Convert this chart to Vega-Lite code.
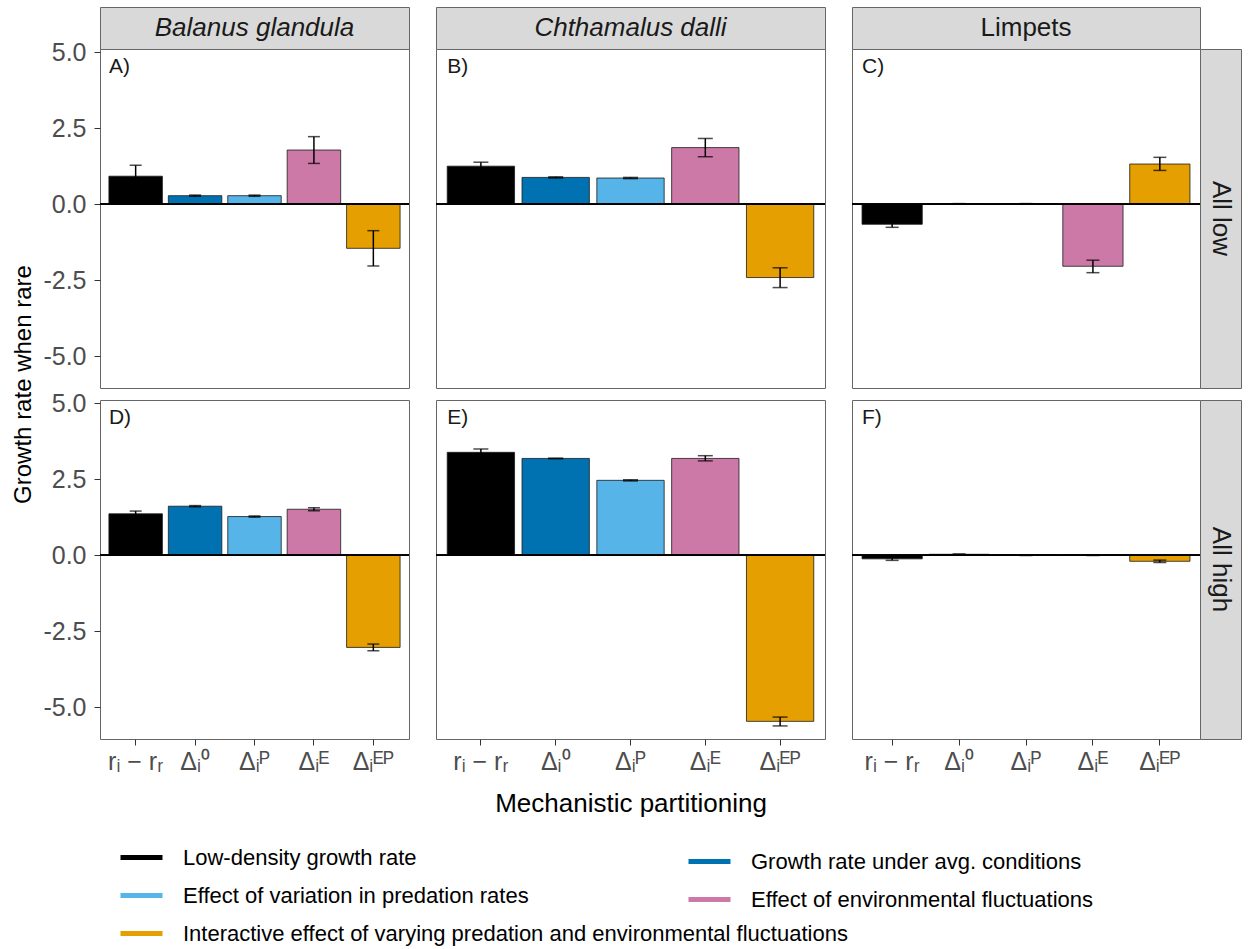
{
  "$schema": "https://vega.github.io/schema/vega-lite/v6.json",
  "padding": {"left": 10, "top": 6, "right": 7, "bottom": 5},
  "background": "white",
  "config": {
    "font": "Liberation Sans",
    "view": {"stroke": "#666666", "strokeWidth": 1},
    "axis": {"grid": false, "domain": false, "tickColor": "#333333", "tickSize": 6, "tickWidth": 1, "labelColor": "#4D4D4D", "labelFontSize": 25, "labelFont": "Liberation Sans", "titleFont": "Liberation Sans", "titleFontSize": 26, "titleColor": "#000000", "titleFontWeight": "normal"},
    "legend": {"direction": "vertical", "title": null, "symbolType": "stroke", "symbolSize": 1764, "symbolStrokeWidth": 5, "symbolOpacity": 1, "labelFontSize": 22, "labelFont": "Liberation Sans", "labelColor": "#000000", "labelOffset": 18, "rowPadding": 3, "labelLimit": 1000, "padding": 0}
  },
  "datasets": {
    "bars": [
      {"species": "Balanus glandula", "treatment": "All low", "term": "rᵢ − rᵣ", "component": "Low-density growth rate", "value": 0.92, "lo": 0.56, "hi": 1.28},
      {"species": "Balanus glandula", "treatment": "All low", "term": "Δᵢ⁰", "component": "Growth rate under avg. conditions", "value": 0.28, "lo": 0.26, "hi": 0.30},
      {"species": "Balanus glandula", "treatment": "All low", "term": "Δᵢᴾ", "component": "Effect of variation in predation rates", "value": 0.28, "lo": 0.26, "hi": 0.30},
      {"species": "Balanus glandula", "treatment": "All low", "term": "Δᵢᴱ", "component": "Effect of environmental fluctuations", "value": 1.78, "lo": 1.34, "hi": 2.22},
      {"species": "Balanus glandula", "treatment": "All low", "term": "Δᵢᴱᴾ", "component": "Interactive effect of varying predation and environmental fluctuations", "value": -1.45, "lo": -2.03, "hi": -0.87},
      {"species": "Chthamalus dalli", "treatment": "All low", "term": "rᵢ − rᵣ", "component": "Low-density growth rate", "value": 1.25, "lo": 1.12, "hi": 1.38},
      {"species": "Chthamalus dalli", "treatment": "All low", "term": "Δᵢ⁰", "component": "Growth rate under avg. conditions", "value": 0.88, "lo": 0.86, "hi": 0.90},
      {"species": "Chthamalus dalli", "treatment": "All low", "term": "Δᵢᴾ", "component": "Effect of variation in predation rates", "value": 0.86, "lo": 0.84, "hi": 0.88},
      {"species": "Chthamalus dalli", "treatment": "All low", "term": "Δᵢᴱ", "component": "Effect of environmental fluctuations", "value": 1.86, "lo": 1.56, "hi": 2.16},
      {"species": "Chthamalus dalli", "treatment": "All low", "term": "Δᵢᴱᴾ", "component": "Interactive effect of varying predation and environmental fluctuations", "value": -2.41, "lo": -2.74, "hi": -2.09},
      {"species": "Limpets", "treatment": "All low", "term": "rᵢ − rᵣ", "component": "Low-density growth rate", "value": -0.66, "lo": -0.76, "hi": -0.56},
      {"species": "Limpets", "treatment": "All low", "term": "Δᵢ⁰", "component": "Growth rate under avg. conditions", "value": 0.01, "lo": 0.0, "hi": 0.02},
      {"species": "Limpets", "treatment": "All low", "term": "Δᵢᴾ", "component": "Effect of variation in predation rates", "value": 0.01, "lo": 0.0, "hi": 0.02},
      {"species": "Limpets", "treatment": "All low", "term": "Δᵢᴱ", "component": "Effect of environmental fluctuations", "value": -2.04, "lo": -2.25, "hi": -1.84},
      {"species": "Limpets", "treatment": "All low", "term": "Δᵢᴱᴾ", "component": "Interactive effect of varying predation and environmental fluctuations", "value": 1.32, "lo": 1.11, "hi": 1.54},
      {"species": "Balanus glandula", "treatment": "All high", "term": "rᵢ − rᵣ", "component": "Low-density growth rate", "value": 1.36, "lo": 1.27, "hi": 1.45},
      {"species": "Balanus glandula", "treatment": "All high", "term": "Δᵢ⁰", "component": "Growth rate under avg. conditions", "value": 1.61, "lo": 1.59, "hi": 1.63},
      {"species": "Balanus glandula", "treatment": "All high", "term": "Δᵢᴾ", "component": "Effect of variation in predation rates", "value": 1.27, "lo": 1.25, "hi": 1.29},
      {"species": "Balanus glandula", "treatment": "All high", "term": "Δᵢᴱ", "component": "Effect of environmental fluctuations", "value": 1.51, "lo": 1.46, "hi": 1.56},
      {"species": "Balanus glandula", "treatment": "All high", "term": "Δᵢᴱᴾ", "component": "Interactive effect of varying predation and environmental fluctuations", "value": -3.03, "lo": -3.14, "hi": -2.92},
      {"species": "Chthamalus dalli", "treatment": "All high", "term": "rᵢ − rᵣ", "component": "Low-density growth rate", "value": 3.38, "lo": 3.27, "hi": 3.49},
      {"species": "Chthamalus dalli", "treatment": "All high", "term": "Δᵢ⁰", "component": "Growth rate under avg. conditions", "value": 3.18, "lo": 3.17, "hi": 3.19},
      {"species": "Chthamalus dalli", "treatment": "All high", "term": "Δᵢᴾ", "component": "Effect of variation in predation rates", "value": 2.46, "lo": 2.44, "hi": 2.48},
      {"species": "Chthamalus dalli", "treatment": "All high", "term": "Δᵢᴱ", "component": "Effect of environmental fluctuations", "value": 3.18, "lo": 3.10, "hi": 3.27},
      {"species": "Chthamalus dalli", "treatment": "All high", "term": "Δᵢᴱᴾ", "component": "Interactive effect of varying predation and environmental fluctuations", "value": -5.46, "lo": -5.61, "hi": -5.32},
      {"species": "Limpets", "treatment": "All high", "term": "rᵢ − rᵣ", "component": "Low-density growth rate", "value": -0.12, "lo": -0.17, "hi": -0.07},
      {"species": "Limpets", "treatment": "All high", "term": "Δᵢ⁰", "component": "Growth rate under avg. conditions", "value": 0.03, "lo": 0.02, "hi": 0.04},
      {"species": "Limpets", "treatment": "All high", "term": "Δᵢᴾ", "component": "Effect of variation in predation rates", "value": 0.0, "lo": -0.01, "hi": 0.01},
      {"species": "Limpets", "treatment": "All high", "term": "Δᵢᴱ", "component": "Effect of environmental fluctuations", "value": 0.0, "lo": -0.01, "hi": 0.01},
      {"species": "Limpets", "treatment": "All high", "term": "Δᵢᴱᴾ", "component": "Interactive effect of varying predation and environmental fluctuations", "value": -0.2, "lo": -0.24, "hi": -0.16}
    ],
    "labels": [
      {"species": "Balanus glandula", "treatment": "All low", "term": "rᵢ − rᵣ", "label": "A)"},
      {"species": "Chthamalus dalli", "treatment": "All low", "term": "rᵢ − rᵣ", "label": "B)"},
      {"species": "Limpets", "treatment": "All low", "term": "rᵢ − rᵣ", "label": "C)"},
      {"species": "Balanus glandula", "treatment": "All high", "term": "rᵢ − rᵣ", "label": "D)"},
      {"species": "Chthamalus dalli", "treatment": "All high", "term": "rᵢ − rᵣ", "label": "E)"},
      {"species": "Limpets", "treatment": "All high", "term": "rᵢ − rᵣ", "label": "F)"}
    ],
    "blank": [{}]
  },
  "columns": 6,
  "spacing": 0,
  "align": "each",
  "bounds": "flush",
  "concat": [
    {"width": 309, "height": 42, "data": {"values": [{"name": "Balanus glandula"}]}, "view": {"fill": "#D9D9D9", "stroke": "#666666"}, "mark": {"type": "text", "fontSize": 26, "fontStyle": "italic", "color": "#1A1A1A", "baseline": "middle", "align": "center"}, "encoding": {"text": {"field": "name"}}},
    {"width": 27, "height": 42, "data": {"name": "blank"}, "view": {"stroke": null}, "mark": {"type": "point", "opacity": 0}},
    {"width": 389, "height": 42, "data": {"values": [{"name": "Chthamalus dalli"}]}, "view": {"fill": "#D9D9D9", "stroke": "#666666"}, "mark": {"type": "text", "fontSize": 26, "fontStyle": "italic", "color": "#1A1A1A", "baseline": "middle", "align": "center"}, "encoding": {"text": {"field": "name"}}},
    {"width": 27, "height": 42, "data": {"name": "blank"}, "view": {"stroke": null}, "mark": {"type": "point", "opacity": 0}},
    {"width": 348, "height": 42, "data": {"values": [{"name": "Limpets"}]}, "view": {"fill": "#D9D9D9", "stroke": "#666666"}, "mark": {"type": "text", "fontSize": 26, "color": "#1A1A1A", "baseline": "middle", "align": "center"}, "encoding": {"text": {"field": "name"}}},
    {"width": 41, "height": 42, "data": {"name": "blank"}, "view": {"stroke": null}, "mark": {"type": "point", "opacity": 0}},

    {
      "width": 309, "height": 339,
      "data": {"name": "bars"},
      "transform": [{"filter": "datum.species === 'Balanus glandula' && datum.treatment === 'All low'"}],
      "layer": [
        {"mark": {"type": "bar", "stroke": "#1A1A1A", "strokeWidth": 0.8},
         "encoding": {
           "x": {"field": "term", "type": "nominal", "sort": null, "scale": {"domain": ["rᵢ − rᵣ", "Δᵢ⁰", "Δᵢᴾ", "Δᵢᴱ", "Δᵢᴱᴾ"], "paddingInner": 0.1, "paddingOuter": 0.15}, "axis": null},
           "y": {"field": "value", "type": "quantitative", "scale": {"domain": [-6.04, 5.1], "nice": false}, "axis": {"values": [-5, -2.5, 0, 2.5, 5], "labelExpr": "replace(format(datum.value, '.1f'), '\u2212', '-')", "labelPadding": 8, "title": "Growth rate when rare", "titleFontSize": 24, "titleX": -77, "titleY": 335, "titleAngle": -90, "titleBaseline": "middle", "titleAlign": "center"}},
           "fill": {"field": "component", "type": "nominal", "scale": {"domain": ["Low-density growth rate", "Growth rate under avg. conditions", "Effect of variation in predation rates", "Effect of environmental fluctuations", "Interactive effect of varying predation and environmental fluctuations"], "range": ["#000000", "#0072B2", "#56B4E9", "#CC79A7", "#E69F00"]}, "legend": null}
         }},
        {"mark": {"type": "rule", "color": "#000000", "strokeWidth": 1.5}, "encoding": {"x": {"field": "term", "type": "nominal"}, "y": {"field": "lo", "type": "quantitative"}, "y2": {"field": "hi"}}},
        {"mark": {"type": "tick", "color": "#000000", "thickness": 1.5, "size": 12}, "encoding": {"x": {"field": "term", "type": "nominal"}, "y": {"field": "lo", "type": "quantitative"}}},
        {"mark": {"type": "tick", "color": "#000000", "thickness": 1.5, "size": 12}, "encoding": {"x": {"field": "term", "type": "nominal"}, "y": {"field": "hi", "type": "quantitative"}}},
        {"transform": [{"filter": {"field": "component", "oneOf": ["Low-density growth rate", "Effect of variation in predation rates", "Interactive effect of varying predation and environmental fluctuations"]}}],
         "mark": {"type": "rule", "opacity": 0},
         "encoding": {"y": {"datum": 0, "type": "quantitative"}, "stroke": {"field": "component", "type": "nominal", "scale": {"domain": ["Low-density growth rate", "Effect of variation in predation rates", "Interactive effect of varying predation and environmental fluctuations"], "range": ["#000000", "#56B4E9", "#E69F00"]}, "legend": {"orient": "none", "legendX": 18, "legendY": 827}}}},
        {"transform": [{"filter": {"field": "component", "oneOf": ["Growth rate under avg. conditions", "Effect of environmental fluctuations"]}}],
         "mark": {"type": "rule", "opacity": 0},
         "encoding": {"y": {"datum": 0, "type": "quantitative"}, "color": {"field": "component", "type": "nominal", "scale": {"domain": ["Growth rate under avg. conditions", "Effect of environmental fluctuations"], "range": ["#0072B2", "#CC79A7"]}, "legend": {"orient": "none", "legendX": 586, "legendY": 831}}}},
        {"mark": {"type": "rule", "color": "#000000", "strokeWidth": 1.5}, "encoding": {"y": {"datum": 0, "type": "quantitative"}}},
        {"data": {"name": "labels"}, "transform": [{"filter": "datum.species === 'Balanus glandula' && datum.treatment === 'All low'"}], "mark": {"type": "text", "align": "left", "baseline": "middle", "fontSize": 21, "color": "#1A1A1A"}, "encoding": {"x": {"field": "term", "type": "nominal", "bandPosition": 0}, "y": {"datum": 4.5, "type": "quantitative"}, "text": {"field": "label"}}}
      ]
    },
    {"width": 27, "height": 339, "data": {"name": "blank"}, "view": {"stroke": null}, "mark": {"type": "point", "opacity": 0}},
    {
      "width": 389, "height": 339,
      "data": {"name": "bars"},
      "transform": [{"filter": "datum.species === 'Chthamalus dalli' && datum.treatment === 'All low'"}],
      "layer": [
        {"mark": {"type": "bar", "stroke": "#1A1A1A", "strokeWidth": 0.8},
         "encoding": {
           "x": {"field": "term", "type": "nominal", "sort": null, "scale": {"domain": ["rᵢ − rᵣ", "Δᵢ⁰", "Δᵢᴾ", "Δᵢᴱ", "Δᵢᴱᴾ"], "paddingInner": 0.1, "paddingOuter": 0.15}, "axis": null},
           "y": {"field": "value", "type": "quantitative", "scale": {"domain": [-6.04, 5.1], "nice": false}, "axis": null},
           "fill": {"field": "component", "type": "nominal", "legend": null}
         }},
        {"mark": {"type": "rule", "color": "#000000", "strokeWidth": 1.5}, "encoding": {"x": {"field": "term", "type": "nominal", "axis": null}, "y": {"field": "lo", "type": "quantitative", "axis": null}, "y2": {"field": "hi"}}},
        {"mark": {"type": "tick", "color": "#000000", "thickness": 1.5, "size": 15}, "encoding": {"x": {"field": "term", "type": "nominal", "axis": null}, "y": {"field": "lo", "type": "quantitative", "axis": null}}},
        {"mark": {"type": "tick", "color": "#000000", "thickness": 1.5, "size": 15}, "encoding": {"x": {"field": "term", "type": "nominal", "axis": null}, "y": {"field": "hi", "type": "quantitative", "axis": null}}},
        {"mark": {"type": "rule", "color": "#000000", "strokeWidth": 1.5}, "encoding": {"y": {"datum": 0, "type": "quantitative", "axis": null}}},
        {"data": {"name": "labels"}, "transform": [{"filter": "datum.species === 'Chthamalus dalli' && datum.treatment === 'All low'"}], "mark": {"type": "text", "align": "left", "baseline": "middle", "fontSize": 21, "color": "#1A1A1A"}, "encoding": {"x": {"field": "term", "type": "nominal", "bandPosition": 0, "axis": null}, "y": {"datum": 4.5, "type": "quantitative", "axis": null}, "text": {"field": "label"}}}
      ]
    },
    {"width": 27, "height": 339, "data": {"name": "blank"}, "view": {"stroke": null}, "mark": {"type": "point", "opacity": 0}},
    {
      "width": 348, "height": 339,
      "data": {"name": "bars"},
      "transform": [{"filter": "datum.species === 'Limpets' && datum.treatment === 'All low'"}],
      "layer": [
        {"mark": {"type": "bar", "stroke": "#1A1A1A", "strokeWidth": 0.8},
         "encoding": {
           "x": {"field": "term", "type": "nominal", "sort": null, "scale": {"domain": ["rᵢ − rᵣ", "Δᵢ⁰", "Δᵢᴾ", "Δᵢᴱ", "Δᵢᴱᴾ"], "paddingInner": 0.1, "paddingOuter": 0.15}, "axis": null},
           "y": {"field": "value", "type": "quantitative", "scale": {"domain": [-6.04, 5.1], "nice": false}, "axis": null},
           "fill": {"field": "component", "type": "nominal", "legend": null}
         }},
        {"mark": {"type": "rule", "color": "#000000", "strokeWidth": 1.5}, "encoding": {"x": {"field": "term", "type": "nominal", "axis": null}, "y": {"field": "lo", "type": "quantitative", "axis": null}, "y2": {"field": "hi"}}},
        {"mark": {"type": "tick", "color": "#000000", "thickness": 1.5, "size": 13}, "encoding": {"x": {"field": "term", "type": "nominal", "axis": null}, "y": {"field": "lo", "type": "quantitative", "axis": null}}},
        {"mark": {"type": "tick", "color": "#000000", "thickness": 1.5, "size": 13}, "encoding": {"x": {"field": "term", "type": "nominal", "axis": null}, "y": {"field": "hi", "type": "quantitative", "axis": null}}},
        {"mark": {"type": "rule", "color": "#000000", "strokeWidth": 1.5}, "encoding": {"y": {"datum": 0, "type": "quantitative", "axis": null}}},
        {"data": {"name": "labels"}, "transform": [{"filter": "datum.species === 'Limpets' && datum.treatment === 'All low'"}], "mark": {"type": "text", "align": "left", "baseline": "middle", "fontSize": 21, "color": "#1A1A1A"}, "encoding": {"x": {"field": "term", "type": "nominal", "bandPosition": 0, "axis": null}, "y": {"datum": 4.5, "type": "quantitative", "axis": null}, "text": {"field": "label"}}}
      ]
    },
    {"width": 41, "height": 339, "data": {"values": [{"name": "All low"}]}, "view": {"fill": "#D9D9D9", "stroke": "#666666"}, "mark": {"type": "text", "fontSize": 26, "color": "#1A1A1A", "baseline": "middle", "align": "center", "angle": 90}, "encoding": {"text": {"field": "name"}}},

    {"width": 1, "height": 12, "data": {"name": "blank"}, "view": {"stroke": null}, "mark": {"type": "point", "opacity": 0}},
    {"width": 1, "height": 12, "data": {"name": "blank"}, "view": {"stroke": null}, "mark": {"type": "point", "opacity": 0}},
    {"width": 1, "height": 12, "data": {"name": "blank"}, "view": {"stroke": null}, "mark": {"type": "point", "opacity": 0}},
    {"width": 1, "height": 12, "data": {"name": "blank"}, "view": {"stroke": null}, "mark": {"type": "point", "opacity": 0}},
    {"width": 1, "height": 12, "data": {"name": "blank"}, "view": {"stroke": null}, "mark": {"type": "point", "opacity": 0}},
    {"width": 1, "height": 12, "data": {"name": "blank"}, "view": {"stroke": null}, "mark": {"type": "point", "opacity": 0}},

    {
      "width": 309, "height": 339,
      "data": {"name": "bars"},
      "transform": [{"filter": "datum.species === 'Balanus glandula' && datum.treatment === 'All high'"}],
      "layer": [
        {"mark": {"type": "bar", "stroke": "#1A1A1A", "strokeWidth": 0.8},
         "encoding": {
           "x": {"field": "term", "type": "nominal", "sort": null, "scale": {"domain": ["rᵢ − rᵣ", "Δᵢ⁰", "Δᵢᴾ", "Δᵢᴱ", "Δᵢᴱᴾ"], "paddingInner": 0.1, "paddingOuter": 0.15}, "axis": {"labelAngle": 0, "labelPadding": 4, "title": null, "labelBaseline": "top"}},
           "y": {"field": "value", "type": "quantitative", "scale": {"domain": [-6.04, 5.1], "nice": false}, "axis": {"values": [-5, -2.5, 0, 2.5, 5], "labelExpr": "replace(format(datum.value, '.1f'), '\u2212', '-')", "labelPadding": 8, "title": null}},
           "fill": {"field": "component", "type": "nominal", "legend": null}
         }},
        {"mark": {"type": "rule", "color": "#000000", "strokeWidth": 1.5}, "encoding": {"x": {"field": "term", "type": "nominal"}, "y": {"field": "lo", "type": "quantitative"}, "y2": {"field": "hi"}}},
        {"mark": {"type": "tick", "color": "#000000", "thickness": 1.5, "size": 12}, "encoding": {"x": {"field": "term", "type": "nominal"}, "y": {"field": "lo", "type": "quantitative"}}},
        {"mark": {"type": "tick", "color": "#000000", "thickness": 1.5, "size": 12}, "encoding": {"x": {"field": "term", "type": "nominal"}, "y": {"field": "hi", "type": "quantitative"}}},
        {"mark": {"type": "rule", "color": "#000000", "strokeWidth": 1.5}, "encoding": {"y": {"datum": 0, "type": "quantitative"}}},
        {"data": {"name": "labels"}, "transform": [{"filter": "datum.species === 'Balanus glandula' && datum.treatment === 'All high'"}], "mark": {"type": "text", "align": "left", "baseline": "middle", "fontSize": 21, "color": "#1A1A1A"}, "encoding": {"x": {"field": "term", "type": "nominal", "bandPosition": 0}, "y": {"datum": 4.5, "type": "quantitative"}, "text": {"field": "label"}}}
      ]
    },
    {"width": 27, "height": 339, "data": {"name": "blank"}, "view": {"stroke": null}, "mark": {"type": "point", "opacity": 0}},
    {
      "width": 389, "height": 339,
      "data": {"name": "bars"},
      "transform": [{"filter": "datum.species === 'Chthamalus dalli' && datum.treatment === 'All high'"}],
      "layer": [
        {"mark": {"type": "bar", "stroke": "#1A1A1A", "strokeWidth": 0.8},
         "encoding": {
           "x": {"field": "term", "type": "nominal", "sort": null, "scale": {"domain": ["rᵢ − rᵣ", "Δᵢ⁰", "Δᵢᴾ", "Δᵢᴱ", "Δᵢᴱᴾ"], "paddingInner": 0.1, "paddingOuter": 0.15}, "axis": {"labelAngle": 0, "labelPadding": 4, "labelBaseline": "top", "title": "Mechanistic partitioning", "titlePadding": 16}},
           "y": {"field": "value", "type": "quantitative", "scale": {"domain": [-6.04, 5.1], "nice": false}, "axis": null},
           "fill": {"field": "component", "type": "nominal", "legend": null}
         }},
        {"mark": {"type": "rule", "color": "#000000", "strokeWidth": 1.5}, "encoding": {"x": {"field": "term", "type": "nominal"}, "y": {"field": "lo", "type": "quantitative", "axis": null}, "y2": {"field": "hi"}}},
        {"mark": {"type": "tick", "color": "#000000", "thickness": 1.5, "size": 15}, "encoding": {"x": {"field": "term", "type": "nominal"}, "y": {"field": "lo", "type": "quantitative", "axis": null}}},
        {"mark": {"type": "tick", "color": "#000000", "thickness": 1.5, "size": 15}, "encoding": {"x": {"field": "term", "type": "nominal"}, "y": {"field": "hi", "type": "quantitative", "axis": null}}},
        {"mark": {"type": "rule", "color": "#000000", "strokeWidth": 1.5}, "encoding": {"y": {"datum": 0, "type": "quantitative", "axis": null}}},
        {"data": {"name": "labels"}, "transform": [{"filter": "datum.species === 'Chthamalus dalli' && datum.treatment === 'All high'"}], "mark": {"type": "text", "align": "left", "baseline": "middle", "fontSize": 21, "color": "#1A1A1A"}, "encoding": {"x": {"field": "term", "type": "nominal", "bandPosition": 0}, "y": {"datum": 4.5, "type": "quantitative", "axis": null}, "text": {"field": "label"}}}
      ]
    },
    {"width": 27, "height": 339, "data": {"name": "blank"}, "view": {"stroke": null}, "mark": {"type": "point", "opacity": 0}},
    {
      "width": 348, "height": 339,
      "data": {"name": "bars"},
      "transform": [{"filter": "datum.species === 'Limpets' && datum.treatment === 'All high'"}],
      "layer": [
        {"mark": {"type": "bar", "stroke": "#1A1A1A", "strokeWidth": 0.8},
         "encoding": {
           "x": {"field": "term", "type": "nominal", "sort": null, "scale": {"domain": ["rᵢ − rᵣ", "Δᵢ⁰", "Δᵢᴾ", "Δᵢᴱ", "Δᵢᴱᴾ"], "paddingInner": 0.1, "paddingOuter": 0.15}, "axis": {"labelAngle": 0, "labelPadding": 4, "title": null, "labelBaseline": "top"}},
           "y": {"field": "value", "type": "quantitative", "scale": {"domain": [-6.04, 5.1], "nice": false}, "axis": null},
           "fill": {"field": "component", "type": "nominal", "legend": null}
         }},
        {"mark": {"type": "rule", "color": "#000000", "strokeWidth": 1.5}, "encoding": {"x": {"field": "term", "type": "nominal"}, "y": {"field": "lo", "type": "quantitative", "axis": null}, "y2": {"field": "hi"}}},
        {"mark": {"type": "tick", "color": "#000000", "thickness": 1.5, "size": 13}, "encoding": {"x": {"field": "term", "type": "nominal"}, "y": {"field": "lo", "type": "quantitative", "axis": null}}},
        {"mark": {"type": "tick", "color": "#000000", "thickness": 1.5, "size": 13}, "encoding": {"x": {"field": "term", "type": "nominal"}, "y": {"field": "hi", "type": "quantitative", "axis": null}}},
        {"mark": {"type": "rule", "color": "#000000", "strokeWidth": 1.5}, "encoding": {"y": {"datum": 0, "type": "quantitative", "axis": null}}},
        {"data": {"name": "labels"}, "transform": [{"filter": "datum.species === 'Limpets' && datum.treatment === 'All high'"}], "mark": {"type": "text", "align": "left", "baseline": "middle", "fontSize": 21, "color": "#1A1A1A"}, "encoding": {"x": {"field": "term", "type": "nominal", "bandPosition": 0}, "y": {"datum": 4.5, "type": "quantitative", "axis": null}, "text": {"field": "label"}}}
      ]
    },
    {"width": 41, "height": 339, "data": {"values": [{"name": "All high"}]}, "view": {"fill": "#D9D9D9", "stroke": "#666666"}, "mark": {"type": "text", "fontSize": 26, "color": "#1A1A1A", "baseline": "middle", "align": "center", "angle": 90}, "encoding": {"text": {"field": "name"}}}
  ]
}
